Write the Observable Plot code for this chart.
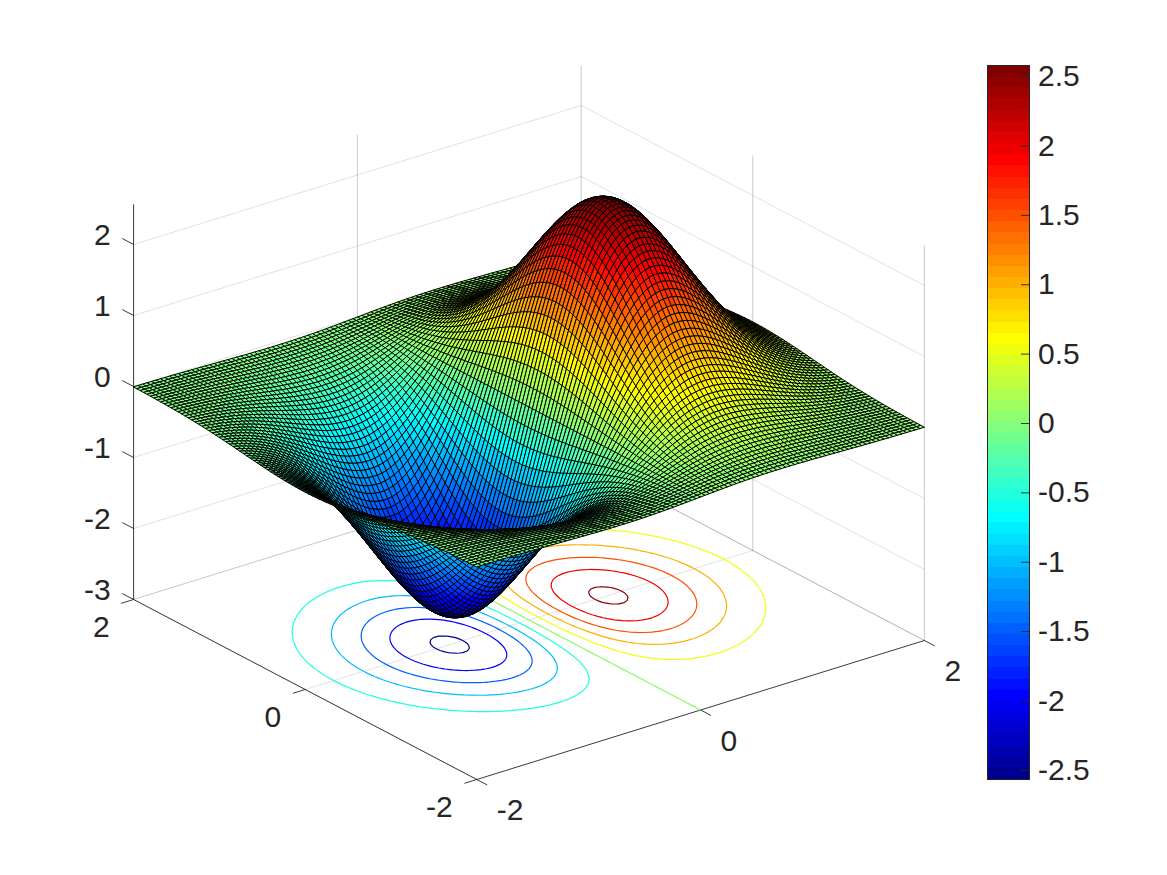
<!DOCTYPE html>
<html>
<head>
<meta charset="utf-8">
<script src="https://cdn.jsdelivr.net/npm/d3@7"></script>
<script src="https://cdn.jsdelivr.net/npm/@observablehq/plot@0.6"></script>
<style>
html,body{margin:0;padding:0;background:#fff}
#chart{position:relative;width:1167px;height:875px;overflow:hidden}
#chart svg{position:absolute;top:0}
</style>
</head>
<body>
<div id="chart"></div>
<script>
// Surface heights are estimates: one section along x (at y = 0) and one relative
// section along y; each mesh height is xSection[i] * ySection[j].
const xSection = [-0.2196,-0.2528,-0.2892,-0.3294,-0.3743,-0.4234,-0.4773,-0.5356,-0.5998,-0.6681,-0.7421,-0.8209,-0.9047,-0.9937,-1.0860,-1.1836,-1.2836,-1.3868,-1.4922,-1.5989,-1.7057,-1.8124,-1.9165,-2.0185,-2.1160,-2.2073,-2.2919,-2.3681,-2.4341,-2.4888,-2.5310,-2.5591,-2.5726,-2.5696,-2.5494,-2.5117,-2.4555,-2.3809,-2.2873,-2.1754,-2.0450,-1.8973,-1.7332,-1.5533,-1.3594,-1.1529,-0.9357,-0.7097,-0.4769,-0.2396,0,0.2396,0.4769,0.7097,0.9357,1.1529,1.3594,1.5533,1.7332,1.8973,2.0450,2.1754,2.2873,2.3809,2.4555,2.5117,2.5494,2.5696,2.5726,2.5591,2.5310,2.4888,2.4341,2.3681,2.2919,2.2073,2.1160,2.0185,1.9165,1.8124,1.7057,1.5989,1.4922,1.3868,1.2836,1.1836,1.0860,0.9937,0.9047,0.8209,0.7421,0.6681,0.5998,0.5356,0.4773,0.4234,0.3743,0.3294,0.2892,0.2528,0.2196];
const ySection = [0.0183,0.0215,0.0251,0.0292,0.0339,0.0392,0.0452,0.0519,0.0595,0.0679,0.0773,0.0877,0.0992,0.1119,0.1257,0.1409,0.1573,0.1751,0.1943,0.2149,0.2369,0.2604,0.2852,0.3115,0.3391,0.3679,0.3979,0.4290,0.4610,0.4938,0.5273,0.5612,0.5955,0.6298,0.6639,0.6977,0.7308,0.7631,0.7942,0.8240,0.8521,0.8784,0.9027,0.9246,0.9440,0.9608,0.9747,0.9857,0.9936,0.9984,1,0.9984,0.9936,0.9857,0.9747,0.9608,0.9440,0.9246,0.9027,0.8784,0.8521,0.8240,0.7942,0.7631,0.7308,0.6977,0.6639,0.6298,0.5955,0.5612,0.5273,0.4938,0.4610,0.4290,0.3979,0.3679,0.3391,0.3115,0.2852,0.2604,0.2369,0.2149,0.1943,0.1751,0.1573,0.1409,0.1257,0.1119,0.0992,0.0877,0.0773,0.0679,0.0595,0.0519,0.0452,0.0392,0.0339,0.0292,0.0251,0.0215,0.0183];
const jetColors = ["#00008f","#00009f","#0000af","#0000bf","#0000cf","#0000df","#0000ef","#0000ff","#0010ff","#0020ff","#0030ff","#0040ff","#0050ff","#0060ff","#0070ff","#0080ff","#008fff","#009fff","#00afff","#00bfff","#00cfff","#00dfff","#00efff","#00ffff","#10ffef","#20ffdf","#30ffcf","#40ffbf","#50ffaf","#60ff9f","#70ff8f","#80ff80","#8fff70","#9fff60","#afff50","#bfff40","#cfff30","#dfff20","#efff10","#ffff00","#ffef00","#ffdf00","#ffcf00","#ffbf00","#ffaf00","#ff9f00","#ff8f00","#ff8000","#ff7000","#ff6000","#ff5000","#ff4000","#ff3000","#ff2000","#ff1000","#ff0000","#ef0000","#df0000","#cf0000","#bf0000","#af0000","#9f0000","#8f0000","#800000"];
const contourLevels = [-2.5,-2,-1.5,-1,-0.5,0,0.5,1,1.5,2,2.5];
const colorbarTicks = [-2.5,-2,-1.5,-1,-0.5,0,0.5,1,1.5,2,2.5];
const xTicks = [-2,0,2];
const yTicks = [-2,0,2];
const zTicks = [-3,-2,-1,0,1,2];
const zLimits = [-3,2.56];
const cLimits = [-2.573,2.573];

const TEXT = "#262626", FONT = "'Liberation Sans', Arial, sans-serif", FS = 30;

// orthographic view of the box
const project = (x,y,z) => [528.5 + 111.9*x - 85.8*y, 619.5 - 34.75*x - 45*y - 71*(z+3)];
const pt = (id,x,y,z) => { const [sx,sy] = project(x,y,z); return {id,sx,sy}; };

// colour scale shared by surface, contours and colorbar
const step = (cLimits[1]-cLimits[0])/jetColors.length;
const thresholds = d3.range(1,jetColors.length).map(i => cLimits[0]+i*step);
const colorScale = {type:"threshold", domain:thresholds, range:jetColors};

// walls and floor
const faint = [], medium = [];
let gid = 0;
const seg = (arr,a,b) => { gid++; arr.push(pt(gid,...a),pt(gid,...b)); };
for (const z of zTicks) { seg(faint,[-2,2,z],[2,2,z]); seg(faint,[2,2,z],[2,-2,z]); }
for (const x of xTicks) { if (x>-2) seg(medium,[x,2,zLimits[0]],[x,2,zLimits[1]]); if (x<2) seg(faint,[x,-2,zLimits[0]],[x,2,zLimits[0]]); }
for (const y of yTicks) { if (y<2) seg(medium,[2,y,zLimits[0]],[2,y,zLimits[1]]); if (y>-2) seg(faint,[-2,y,zLimits[0]],[2,y,zLimits[0]]); }
seg(medium,[2,-2,zLimits[0]],[2,2,zLimits[0]]);

// axis lines and tick marks
const axes = [];
seg(axes,[-2,-2,-3],[2,-2,-3]);
seg(axes,[-2,-2,-3],[-2,2,-3]);
seg(axes,[-2,2,-3],[-2,2,zLimits[1]]);
for (const x of xTicks) seg(axes,[x,-2,-3],[x,-2.118,-3]);
for (const y of yTicks) seg(axes,[-2,y,-3],[-2.107,y,-3]);
for (const z of zTicks) seg(axes,[-2,2,z],[-2,2.128,z]);

// mesh
const n = xSection.length;
const gridPos = d3.range(n).map(i => -2 + 4*i/(n-1));
const Z = (i,j) => xSection[i]*ySection[j];
const quads = [];
let q = 0;
for (let i=n-2;i>=0;i--) for (let j=n-2;j>=0;j--) {
  q++;
  const v = Z(i,j);
  for (const [a,b] of [[i,j],[i+1,j],[i+1,j+1],[i,j+1]]) {
    const [sx,sy] = project(gridPos[a],gridPos[b],Z(a,b));
    quads.push({id:q,sx,sy,v});
  }
}

// floor contours
const flat = new Float64Array(n*n);
for (let j=0;j<n;j++) for (let i=0;i<n;i++) flat[j*n+i] = Z(i,j);
const contourRows = [];
let cid = 0;
for (const c of d3.contours().size([n,n]).thresholds(contourLevels)(flat)) {
  for (const poly of c.coordinates) for (const ring of poly) {
    let last = false;
    for (const [gx,gy] of ring) {
      const ok = gx>=0.45 && gx<=n-0.45 && gy>=0.45 && gy<=n-0.45;
      if (ok) {
        if (!last) cid++;
        const x = -2+(gx-0.5)*4/(n-1), y = -2+(gy-0.5)*4/(n-1);
        const [sx,sy] = project(x,y,-3);
        contourRows.push({id:cid,sx,sy,level:c.value});
      }
      last = ok;
    }
  }
}

// tick labels
const labelRows = (ticks,f) => ticks.map(t => { const [sx,sy] = f(t); return {sx,sy,t:String(t)}; });
const xLabels = labelRows(xTicks,t=>project(t,-2,-3));
const yLabels = labelRows(yTicks,t=>project(-2,t,-3));
const zLabels = labelRows(zTicks,t=>project(-2,2,t));

const lineOpts = {x:"sx",y:"sy",z:"id"};
const textOpts = {x:"sx",y:"sy",text:"t",fontSize:FS,fill:TEXT,fontFamily:FONT};

const main = Plot.plot({
  width:1167,height:875,margin:0,
  x:{domain:[0,1167],range:[0,1167],axis:null},
  y:{domain:[0,875],range:[0,875],axis:null},
  color:colorScale,
  style:{background:"transparent",fontFamily:FONT},
  marks:[
    Plot.line(faint,{...lineOpts,stroke:"#262626",strokeOpacity:0.15,strokeWidth:0.9}),
    Plot.line(medium,{...lineOpts,stroke:"#262626",strokeOpacity:0.27,strokeWidth:0.9}),
    Plot.line(axes,{...lineOpts,stroke:TEXT,strokeWidth:0.9}),
    Plot.line(contourRows,{...lineOpts,stroke:"level",strokeWidth:1.2}),
    Plot.line(quads,{...lineOpts,fill:"v",stroke:"black",strokeWidth:1,curve:"linear-closed"}),
    Plot.text(xLabels,{...textOpts,textAnchor:"start",dx:20,dy:31}),
    Plot.text(yLabels,{...textOpts,textAnchor:"end",dx:-24,dy:28}),
    Plot.text(zLabels,{...textOpts,textAnchor:"end",dx:-23,dy:-9})
  ]
});
main.style.left = "0px";

const cells = jetColors.map((_,i)=>({lo:cLimits[0]+i*step,hi:cLimits[0]+(i+1)*step,mid:cLimits[0]+(i+0.5)*step}));
const bar = Plot.plot({
  width:207,height:875,
  marginLeft:27,marginRight:138,marginTop:65,marginBottom:96,
  x:{axis:null},
  y:{domain:cLimits,axis:null},
  color:colorScale,
  style:{background:"transparent",fontFamily:FONT},
  marks:[
    Plot.rect(cells,{y1:"lo",y2:"hi",fill:"mid",shapeRendering:"crispEdges"}),
    Plot.frame({stroke:TEXT,strokeWidth:1}),
    Plot.axisY({anchor:"right",ticks:colorbarTicks,tickFormat:d=>String(d),tickSize:-9,tickPadding:17.5,fontSize:FS,fontVariant:"normal",color:TEXT,label:null,stroke:TEXT,strokeWidth:0.9,dy:1})
  ]
});
bar.style.left = "960px";

const root = document.getElementById("chart");
root.appendChild(main);
root.appendChild(bar);
</script>
</body>
</html>
